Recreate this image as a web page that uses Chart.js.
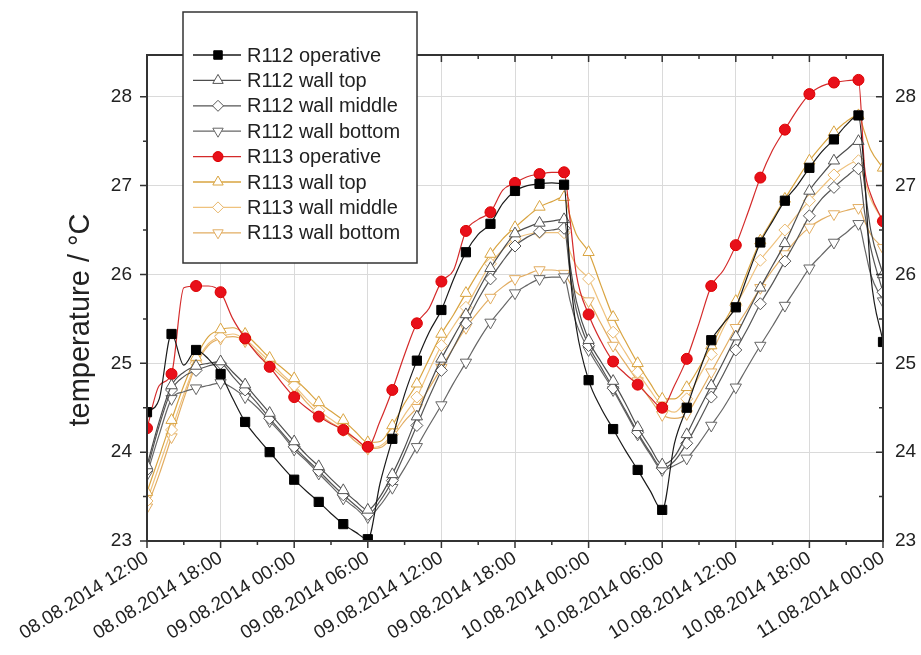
<!DOCTYPE html>
<html><head><meta charset="utf-8">
<script src="https://cdn.jsdelivr.net/npm/chart.js@4.4.1/dist/chart.umd.min.js"></script>
<style>html,body{margin:0;padding:0;background:#fff;}#wrap{width:921px;height:655px;}</style>
</head><body><div id="wrap"><canvas id="c" width="921" height="655"></canvas></div>
<script>
// hours since 08.08.2014 12:00
const hours = [0,1,2,3,4,5,6,7,8,9,10,11,12,13,14,15,16,17,18,19,20,21,22,23,24,25,26,27,28,29,30,31,32,33,34,34.5,
  35,36,37,38,39,40,41,42,43,44,45,46,47,48,49,50,51,52,53,54,55,56,57,58,58.5,59,60];
const tickLabels = ['08.08.2014 12:00','08.08.2014 18:00','09.08.2014 00:00','09.08.2014 06:00','09.08.2014 12:00',
  '09.08.2014 18:00','10.08.2014 00:00','10.08.2014 06:00','10.08.2014 12:00','10.08.2014 18:00','11.08.2014 00:00'];
const seriesNames = ['R112 operative','R112 wall top','R112 wall middle','R112 wall bottom',
  'R113 operative','R113 wall top','R113 wall middle','R113 wall bottom'];
const yTitle = 'temperature / °C';

const r112Operative = [24.45,24.6,25.33,24.98,25.15,25.05,24.88,24.6,24.34,24.16,
  24.0,23.84,23.69,23.56,23.44,23.31,23.19,23.1,23.02,23.65,
  24.15,24.65,25.03,25.35,25.6,25.95,26.25,26.45,26.57,26.8,
  26.94,27.0,27.02,27.03,27.01, 26.0,
  25.4,24.81,24.5,24.26,24.02,23.8,23.57,23.35,24.1,24.5,
  24.9,25.26,25.45,25.63,26.0,26.36,26.6,26.83,27.0,27.2,
  27.38,27.52,27.68,27.79, 27.1, 26.0,25.24];
const r112WallTop = [23.85,24.35,24.75,24.9,24.97,25.0,25.02,24.9,24.76,24.6,
  24.44,24.28,24.12,23.97,23.84,23.7,23.57,23.45,23.35,23.5,
  23.75,24.05,24.4,24.75,25.05,25.3,25.55,25.82,26.07,26.28,
  26.46,26.53,26.58,26.6,26.62, 26.1,
  25.7,25.26,25.02,24.8,24.55,24.28,24.06,23.86,23.95,24.2,
  24.48,24.75,25.02,25.3,25.58,25.85,26.1,26.35,26.65,26.94,
  27.12,27.28,27.4,27.5, 27.0, 26.5,26.0];
const r112WallMiddle = [23.8,24.3,24.7,24.85,24.92,24.97,25.0,24.85,24.7,24.55,
  24.38,24.22,24.06,23.92,23.79,23.65,23.52,23.4,23.3,23.45,
  23.68,23.98,24.3,24.62,24.92,25.18,25.45,25.72,25.95,26.15,
  26.32,26.42,26.48,26.5,26.52, 26.0,
  25.6,25.2,24.96,24.72,24.47,24.22,24.0,23.82,23.9,24.1,
  24.35,24.62,24.88,25.15,25.4,25.67,25.9,26.15,26.4,26.66,
  26.85,26.98,27.1,27.19, 26.7, 26.3,25.8];
const r112WallBottom = [23.75,24.2,24.6,24.68,24.72,24.75,24.78,24.72,24.62,24.5,
  24.35,24.2,24.03,23.9,23.76,23.62,23.48,23.37,23.27,23.4,
  23.6,23.82,24.06,24.3,24.53,24.78,25.01,25.25,25.46,25.63,
  25.79,25.88,25.95,25.97,25.97, 25.7,
  25.45,25.15,24.92,24.7,24.45,24.2,23.98,23.8,23.85,23.93,
  24.1,24.3,24.5,24.73,24.97,25.2,25.42,25.65,25.86,26.07,
  26.22,26.36,26.47,26.57, 26.3, 26.0,25.7];
const r113Operative = [24.27,24.75,24.88,25.85,25.87,25.87,25.8,25.5,25.28,25.1,
  24.96,24.78,24.62,24.5,24.4,24.32,24.25,24.15,24.06,24.35,
  24.7,25.1,25.45,25.62,25.92,26.05,26.49,26.62,26.7,26.95,
  27.03,27.1,27.13,27.15,27.15, 26.6,
  26.0,25.55,25.25,25.02,24.88,24.76,24.62,24.5,24.75,25.05,
  25.45,25.87,26.05,26.33,26.7,27.09,27.4,27.63,27.85,28.03,
  28.12,28.16,28.18,28.19, 27.2, 26.9,26.6];
const r113WallTop = [23.55,23.95,24.36,24.75,25.07,25.3,25.38,25.4,25.33,25.2,
  25.06,24.95,24.83,24.7,24.56,24.46,24.36,24.23,24.11,24.12,
  24.3,24.55,24.77,25.05,25.33,25.55,25.79,26.02,26.23,26.4,
  26.53,26.65,26.76,26.82,26.87, 26.65,
  26.45,26.25,25.88,25.52,25.25,25.0,24.78,24.6,24.6,24.73,
  24.95,25.2,25.45,25.7,26.05,26.38,26.62,26.85,27.07,27.28,
  27.45,27.6,27.72,27.79, 27.6, 27.4,27.2];
const r113WallMiddle = [23.45,23.85,24.25,24.65,25.0,25.22,25.3,25.33,25.27,25.15,
  25.02,24.88,24.75,24.6,24.47,24.37,24.27,24.15,24.05,24.07,
  24.2,24.42,24.62,24.92,25.2,25.42,25.63,25.88,26.12,26.28,
  26.4,26.45,26.47,26.47,26.47, 26.25,
  26.1,25.95,25.65,25.35,25.12,24.9,24.7,24.52,24.45,24.6,
  24.85,25.1,25.4,25.65,25.9,26.16,26.33,26.5,26.67,26.83,
  26.98,27.12,27.22,27.28, 27.05, 26.85,26.6];
const r113WallBottom = [23.38,23.75,24.17,24.6,24.98,25.2,25.28,25.3,25.25,25.12,
  24.98,24.85,24.73,24.56,24.43,24.33,24.25,24.12,24.04,24.05,
  24.17,24.35,24.5,24.72,24.95,25.18,25.4,25.58,25.74,25.86,
  25.95,26.0,26.05,26.05,26.01, 25.9,
  25.8,25.7,25.45,25.2,25.0,24.8,24.6,24.42,24.38,24.43,
  24.65,24.9,25.15,25.4,25.62,25.85,26.05,26.23,26.4,26.53,
  26.62,26.68,26.72,26.75, 26.6, 26.45,26.3];

const FONT = "'Liberation Sans', Arial, sans-serif";
Chart.defaults.font.family = FONT;

function pts(vals){ return vals.map((v,i)=>({x:hours[i], y:v})); }
function mk(label, vals, line, style, opts){
  return Object.assign({
    label, data: pts(vals), borderColor: line, borderWidth: 1.2,
    pointStyle: style, pointBorderWidth: 1, tension: 0,
    cubicInterpolationMode: 'monotone',
    pointRadius: (c)=> (hours[c.dataIndex] % 2 === 0 ? (opts.r || 6) : 0),
    pointHoverRadius: 0
  }, opts);
}

const datasets = [
  mk(seriesNames[0], r112Operative, '#1a1a1a', 'rect', {r:6.5, pointBackgroundColor:'#000', pointBorderColor:'#000'}),
  mk(seriesNames[1], r112WallTop, '#4d4d4d', 'triangle', {r:6.5, pointBackgroundColor:'#fff', pointBorderColor:'#555'}),
  mk(seriesNames[2], r112WallMiddle, '#555', 'rectRot', {r:6, pointBackgroundColor:'#fff', pointBorderColor:'#555'}),
  mk(seriesNames[3], r112WallBottom, '#666', 'triangle', {r:6.5, pointRotation:180, pointBackgroundColor:'#fff', pointBorderColor:'#666'}),
  mk(seriesNames[4], r113Operative, '#d42a2a', 'circle', {r:5.5, pointBackgroundColor:'#e8101a', pointBorderColor:'#d00'}),
  mk(seriesNames[5], r113WallTop, '#d9a441', 'triangle', {r:6.5, pointBackgroundColor:'#fff', pointBorderColor:'#d9a441'}),
  mk(seriesNames[6], r113WallMiddle, '#efc27e', 'rectRot', {r:6, pointBackgroundColor:'#fff', pointBorderColor:'#e8b86e'}),
  mk(seriesNames[7], r113WallBottom, '#e2ad62', 'triangle', {r:6.5, pointRotation:180, pointBackgroundColor:'#fff', pointBorderColor:'#e2ad62'})
];

const decor = {
  id: 'decor',
  afterDatasetsDraw(chart){
    const {ctx, chartArea:a, scales} = chart;
    const xs = scales.x, ys = scales.y;
    ctx.save();
    ctx.strokeStyle = '#333';
    ctx.lineWidth = 1.5;
    ctx.beginPath();
    xs.ticks.forEach(t => {
      const px = xs.getPixelForValue(t.value);
      const len = t.value % 6 === 0 ? 7 : 4;
      ctx.moveTo(px, a.bottom); ctx.lineTo(px, a.bottom + len);
      ctx.moveTo(px, a.top); ctx.lineTo(px, a.top + len);
    });
    ys.ticks.forEach(t => {
      const py = ys.getPixelForValue(t.value);
      const len = Number.isInteger(t.value) ? 7 : 4;
      ctx.moveTo(a.left - len, py); ctx.lineTo(a.left, py);
      ctx.moveTo(a.right, py); ctx.lineTo(a.right - len, py);
    });
    ctx.stroke();
    ctx.lineWidth = 2;
    ctx.strokeRect(a.left, a.top, a.right - a.left, a.bottom - a.top);
    // y-axis title
    ctx.save();
    ctx.translate(89, 320);
    ctx.rotate(-Math.PI / 2);
    ctx.fillStyle = '#222';
    ctx.font = '29px ' + FONT;
    ctx.textAlign = 'center';
    ctx.textBaseline = 'alphabetic';
    ctx.fillText(yTitle, 0, 0);
    ctx.restore();
    // legend
    const bx = 183, by = 12, bw = 234, bh = 251;
    ctx.fillStyle = '#fff';
    ctx.fillRect(bx, by, bw, bh);
    ctx.lineWidth = 1.5;
    ctx.strokeStyle = '#333';
    ctx.strokeRect(bx, by, bw, bh);
    chart.data.datasets.forEach((d, i) => {
      const y = 55 + i * 25.4;
      ctx.beginPath();
      ctx.strokeStyle = d.borderColor;
      ctx.lineWidth = 1.3;
      ctx.moveTo(193, y); ctx.lineTo(241, y);
      ctx.stroke();
      ctx.fillStyle = d.pointBackgroundColor;
      ctx.strokeStyle = d.pointBorderColor;
      ctx.lineWidth = 1;
      Chart.helpers.drawPoint(ctx, {pointStyle: d.pointStyle, rotation: d.pointRotation || 0,
        radius: d.r ? d.r - 0.5 : 5.5, borderWidth: 1}, 218, y);
      ctx.fillStyle = '#222';
      ctx.font = '20px ' + FONT;
      ctx.textBaseline = 'middle';
      ctx.textAlign = 'left';
      ctx.fillText(d.label, 247, y + 1);
    });
    ctx.restore();
  }
};

const yTickCb = (v) => Number.isInteger(v) ? String(v) : '';
const gridY = { color: (c) => (c.tick && Number.isInteger(c.tick.value)) ? '#dadada' : 'rgba(0,0,0,0)', drawTicks:false, lineWidth:1 };

new Chart(document.getElementById('c'), {
  type: 'line',
  data: { datasets },
  options: {
    responsive: false, animation: false, events: [],
    layout: { padding: { top: 55, left: 0, right: 0, bottom: 0 } },
    plugins: { legend: { display: false }, tooltip: { enabled: false } },
    scales: {
      x: {
        type: 'linear', position: 'bottom', min: 0, max: 60,
        afterFit: (s) => { s.height = 114; },
        border: { display: false },
        grid: { color: (c) => (c.tick && c.tick.value % 6 === 0) ? '#dadada' : 'rgba(0,0,0,0)', drawTicks:false, lineWidth:1 },
        ticks: { stepSize: 3, autoSkip: false, minRotation: 32, maxRotation: 32, padding: 6,
          color: '#222', font: { size: 19 },
          callback: (v) => (v % 6 === 0 ? tickLabels[v / 6] : '') }
      },
      y: {
        position: 'left', min: 23, max: 28.47,
        afterFit: (s) => { s.width = 147; },
        border: { display: false },
        grid: gridY,
        ticks: { stepSize: 0.5, includeBounds: false, padding: 15, color: '#222', font: { size: 19 }, callback: yTickCb },
        title: { display: false }
      },
      y2: {
        position: 'right', min: 23, max: 28.47,
        afterFit: (s) => { s.width = 38; },
        border: { display: false },
        grid: { display: false, drawTicks: false },
        ticks: { stepSize: 0.5, includeBounds: false, padding: 12, color: '#222', font: { size: 19 }, callback: yTickCb }
      }
    }
  },
  plugins: [decor]
});
</script></body></html>
